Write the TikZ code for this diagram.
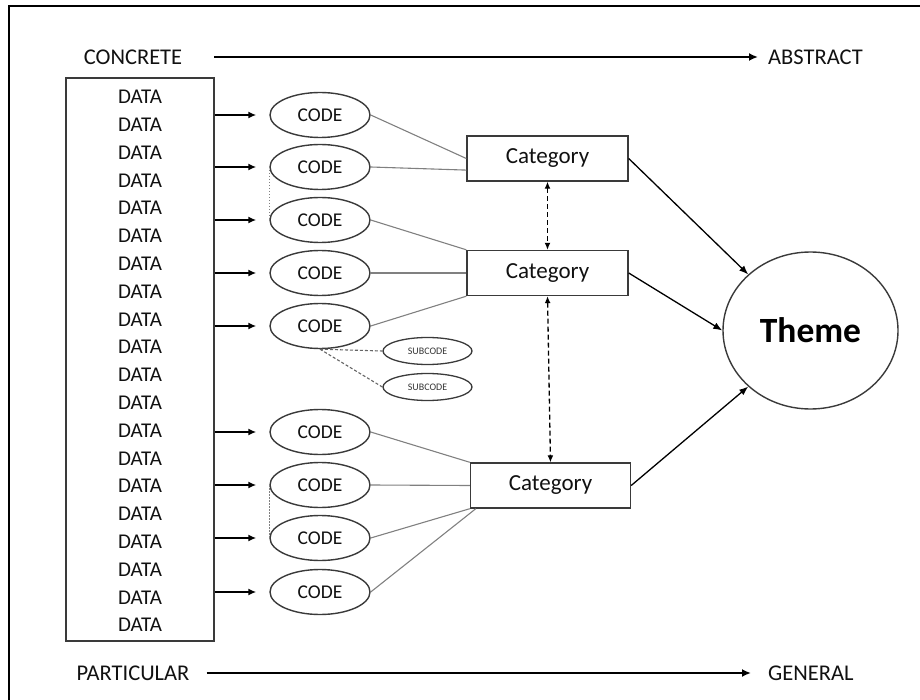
\documentclass[tikz,border=0pt]{standalone}
\usepackage{fontspec}
\setmainfont{Carlito}
\usetikzlibrary{arrows.meta,calc,shapes.geometric}

\definecolor{ink}{HTML}{111111}
\definecolor{edge}{HTML}{3A3A3A}
\definecolor{linkgray}{HTML}{808080}

\tikzset{
  lbl/.style={inner sep=2pt, font=\fontsize{22.5}{27}\selectfont, text=ink},
  datatxt/.style={inner sep=0pt, font=\fontsize{21}{25}\selectfont, text=ink},
  databox/.style={rectangle, draw=edge, line width=1.3pt, minimum width=148pt, minimum height=563pt, inner sep=0pt},
  codeov/.style={ellipse, draw=edge, line width=1.4pt, minimum width=100pt, minimum height=45pt, inner sep=0pt, font=\fontsize{19.5}{23}\selectfont, text=ink},
  subov/.style={ellipse, draw=edge, line width=1.3pt, minimum width=89pt, minimum height=27pt, inner sep=0pt, font=\fontsize{10}{12}\selectfont, text=ink!85},
  catbox/.style={rectangle, draw=edge, line width=1.4pt, minimum width=161pt, minimum height=45pt, inner sep=0pt, font=\fontsize{23}{27}\selectfont, text=ink},
  themeov/.style={ellipse, draw=edge, line width=1.4pt, minimum width=175pt, minimum height=157pt, inner sep=0pt, font=\fontsize{35.5}{40}\selectfont\bfseries, text=black},
  axisarrow/.style={draw=black, line width=2.2pt, -{Latex[length=9pt,width=8pt]}},
  feed/.style={draw=black, line width=1.6pt, -{Latex[length=8pt,width=7pt]}},
  link/.style={draw=linkgray, line width=1.1pt},
  dotlink/.style={draw=linkgray, line width=1pt, dash pattern=on 1.5pt off 1.5pt},
  sublink/.style={draw=linkgray!80!black, line width=1.1pt, dash pattern=on 3pt off 2pt},
  peer/.style={draw=black, line width=1.3pt, dash pattern=on 5pt off 3pt, {Latex[length=7pt,width=6pt]}-{Latex[length=7pt,width=6pt]}},
  totheme/.style={draw=black, line width=1.3pt, -{Latex[length=9pt,width=7pt]}}
}

\begin{document}
\begin{tikzpicture}[x=1pt,y=-1pt]
\useasboundingbox (0,0) rectangle (920,700);

% page frame (top and left edges)
\draw[line width=2pt] (9,700) -- (9,6) -- (920,6);

% axis labels
\node[lbl] (concrete) at (133,57) {CONCRETE};
\node[lbl, anchor=west] (abstract) at (766,57) {ABSTRACT};
\node[lbl] (particular) at (133,673) {PARTICULAR};
\node[lbl, anchor=west] (general) at (766,673) {GENERAL};
\draw[axisarrow, shorten <=30pt, shorten >=8pt] (concrete) -- (abstract);
\draw[axisarrow, shorten <=15pt, shorten >=15pt] (particular) -- (general);

% raw data column
\node[databox] (data) at (140,359.5) {};
\foreach \i in {1,...,20}{
  \node[datatxt] (d\i) at (140,{97+(\i-1)*27.8}) {DATA};
}

% codes
\foreach \n/\y in {1/115,2/167,3/220,4/273,5/326,6/432,7/485,8/538,9/592}{
  \node[codeov] (c\n) at (320,\y) {CODE};
  \draw[feed, shorten >=13pt] (data.east |- c\n) -- (c\n);
}

% subcodes
\node[subov] (s1) at (427.5,351) {SUBCODE};
\node[subov] (s2) at (427.5,387) {SUBCODE};

% categories and theme
\node[catbox] (cat1) at (547.5,158.5) {Category};
\node[catbox] (cat2) at (547.5,273) {Category};
\node[catbox, minimum width=160pt] (cat3) at (550.5,485.5) {Category};
\node[themeov] (theme) at (810.5,330.5) {Theme};

% codes grouped into categories
\draw[link] (c1.east) -- (cat1.west);
\draw[link] (c2.east) -- ($(cat1.west)!0.5!(cat1.south west)$);
\draw[link] (c3.east) -- (cat2.north west);
\draw[link] (c4.east) -- (cat2.west);
\draw[link] (c5.east) -- (cat2.south west);
\draw[link] (c6.east) -- (cat3.north west);
\draw[link] (c7.east) -- (cat3.west);
\draw[link] (c8.east) -- (cat3.south west);
\draw[link] (c9.east) -- ($(cat3.south west)+(6,0)$);

% related codes
\draw[dotlink] (c2.west) -- (c3.west);
\draw[dotlink] (c7.west) -- (c8.west);

% subcodes of a code
\draw[sublink] (c5.south) -- (s1.west);
\draw[sublink] (c5.south) -- (s2.west);

% links between categories
\draw[peer] (cat1.south) -- (cat2.north);
\draw[peer] (cat2.south) -- (cat3.north);

% categories feeding the theme
\draw[totheme] (cat1.east) -- (theme.138);
\draw[totheme] (cat2.east) -- (theme.west);
\draw[totheme] (cat3.east) -- (theme.222);
\end{tikzpicture}
\end{document}
